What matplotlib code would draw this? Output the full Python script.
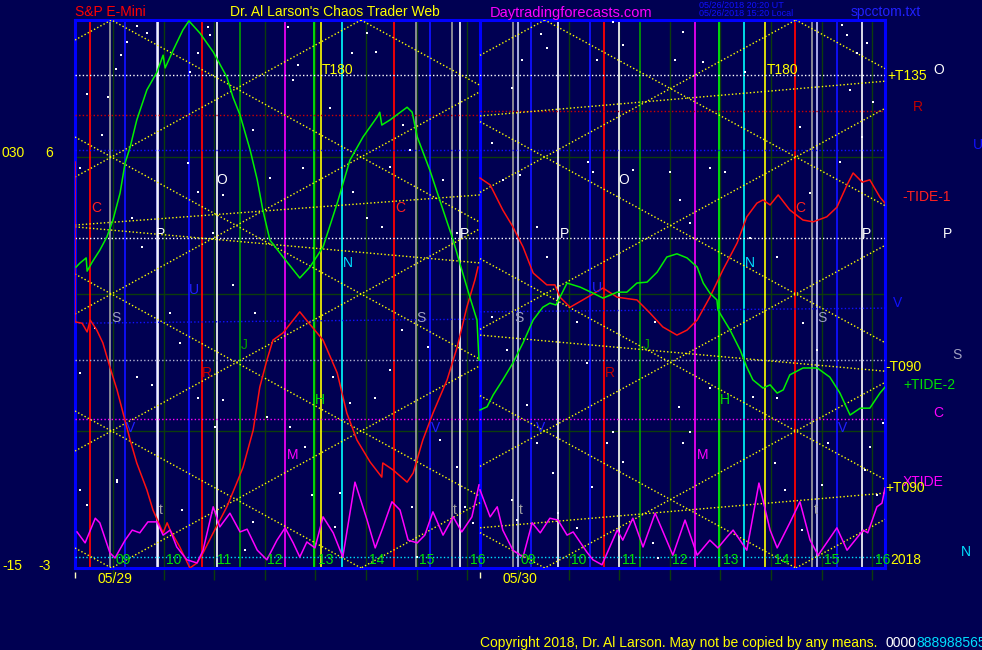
import numpy as np
import matplotlib
matplotlib.use('Agg')
import matplotlib.pyplot as plt

plt.rcParams['font.family'] = ['Liberation Sans', 'DejaVu Sans']

BG = '#000052'

# session hours: 0..8 = 05/29 08:15-16:15, 8..16 = 05/30 08:15-16:15
days = ['05/29', '05/30']
day_start = [0, 8]
hour_labels = ['09', '10', '11', '12', '13', '14', '15', '16']

# forecast curves (hours, value) per day
tide2_d1_x = [0.02, 0.10, 0.22, 0.24, 0.34, 0.49, 0.63, 0.75, 0.89, 0.99, 1.09, 1.22, 1.42, 1.62, 1.74, 1.78,
              1.94, 2.13, 2.25, 2.47, 2.73, 3.00, 3.12, 3.26, 3.46, 3.60, 3.71, 3.85, 4.11, 4.44, 4.64, 4.90,
              5.18, 5.43, 5.69, 5.97, 6.02, 6.06, 6.22, 6.56, 6.66, 6.76, 7.01, 7.27, 7.47, 7.60, 7.80, 7.94, 7.98]
tide2_d1_y = [3.59, 3.68, 3.79, 3.50, 3.70, 3.96, 4.25, 4.62, 5.21, 5.87, 6.22, 6.81, 7.47, 7.86, 8.23, 7.95,
              8.34, 8.78, 8.98, 8.71, 8.30, 7.75, 7.31, 6.92, 6.15, 5.50, 4.84, 4.18, 3.81, 3.35, 3.59, 4.03,
              4.99, 5.93, 6.44, 6.88, 6.98, 6.70, 6.81, 7.09, 6.98, 6.44, 5.71, 4.84, 4.18, 3.68, 2.93, 2.43, 1.55]
tide2_d2_x = [8.00, 8.14, 8.26, 8.45, 8.65, 8.85, 9.05, 9.24, 9.38, 9.50, 9.58, 9.72, 9.98, 10.23, 10.43, 10.71,
              10.90, 11.10, 11.30, 11.50, 11.69, 11.89, 12.09, 12.29, 12.41, 12.54, 12.68, 12.70, 12.94, 13.14,
              13.27, 13.39, 13.59, 13.73, 13.87, 13.99, 14.12, 14.38, 14.66, 14.91, 15.11, 15.31, 15.51, 15.70,
              15.90, 16.00]
tide2_d2_y = [0.46, 0.53, 0.79, 1.12, 1.49, 1.93, 2.43, 2.71, 2.80, 2.76, 2.93, 3.24, 3.15, 3.02, 2.91, 3.04,
              3.04, 3.24, 3.26, 3.48, 3.81, 3.88, 3.79, 3.59, 3.24, 3.02, 2.87, 2.65, 2.21, 1.77,
              1.40, 1.12, 0.94, 1.01, 0.83, 0.90, 1.23, 1.38, 1.38, 1.18, 0.83, 0.35, 0.50, 0.50,
              0.83, 0.96]

tide1_d1_x = [0.00, 0.00, 0.14, 0.24, 0.30, 0.43, 0.55, 0.69, 0.83, 0.95, 1.09, 1.22, 1.42, 1.54, 1.74, 1.82,
              1.88, 2.07, 2.27, 2.41, 2.53, 2.73, 3.00, 3.22, 3.32, 3.52, 3.65, 3.79, 3.91, 4.11, 4.44, 4.60,
              4.90, 5.18, 5.37, 5.57, 5.83, 6.06, 6.08, 6.28, 6.56, 6.68, 6.87, 7.07, 7.35, 7.55, 7.74, 7.90, 7.96]
tide1_d1_y = [5.89, 2.39, 2.36, 2.17, 2.43, 2.21, 1.93, 1.40, 0.90, 0.39, -0.20, -0.70, -1.29, -1.73, -2.23, -2.01,
              -2.17, -2.54, -3.00, -2.89, -2.67, -2.23, -1.66, -1.07, -0.79, 0.02, 0.96, 1.55, 1.99, 2.15, 2.61, 2.39,
              1.99, 1.27, 0.39, -0.20, -0.68, -1.01, -0.70, -0.85, -1.12, -0.92, -0.20, 0.39, 1.12, 1.84, 2.71, 3.31, 3.59]
tide1_d2_x = [8.00, 8.20, 8.45, 8.65, 8.85, 9.05, 9.32, 9.48, 9.58, 9.78, 10.03, 10.43, 10.71, 11.10, 11.36,
              11.61, 11.89, 12.09, 12.29, 12.54, 12.80, 13.08, 13.27, 13.47, 13.59, 13.73, 13.89, 14.12, 14.38,
              14.58, 14.85, 15.05, 15.25, 15.37, 15.55, 15.70, 15.90, 16.00]
tide1_d2_y = [5.54, 5.39, 4.84, 4.47, 4.03, 3.46, 3.20, 3.20, 2.93, 2.71, 2.87, 3.13, 2.93, 2.87, 2.58,
              2.28, 2.10, 2.21, 2.43, 2.93, 3.53, 4.12, 4.69, 4.99, 5.06, 4.95, 5.17, 4.84, 4.62,
              4.58, 4.69, 4.90, 5.39, 5.65, 5.45, 5.50, 5.12, 4.99]

xtide_d1_x = [0.04, 0.20, 0.40, 0.49, 0.69, 0.79, 0.99, 1.13, 1.28, 1.44, 1.62, 1.74, 1.88, 2.01, 2.21, 2.41,
              2.53, 2.73, 2.86, 3.06, 3.26, 3.40, 3.60, 3.79, 3.99, 4.15, 4.31, 4.44, 4.58, 4.74, 4.90, 5.10,
              5.29, 5.53, 5.77, 5.93, 6.08, 6.26, 6.42, 6.58, 6.76, 6.91, 7.07, 7.27, 7.47, 7.64, 7.84, 7.98]
xtide_d1_y = [-2.21, -2.45, -1.91, -2.01, -2.67, -2.78, -2.39, -2.17, -2.23, -1.99, -1.99, -2.28, -2.17, -2.54,
              -2.82, -2.89, -2.61, -1.66, -2.10, -1.80, -2.21, -2.15, -2.61, -2.82, -2.39, -2.12, -2.45, -2.76,
              -2.43, -2.56, -1.88, -2.23, -2.76, -1.12, -1.95, -2.56, -2.12, -1.55, -1.73, -2.39, -2.45, -2.28,
              -1.77, -2.28, -1.88, -2.21, -1.88, -1.18]
xtide_d2_x = [8.00, 8.20, 8.34, 8.45, 8.65, 8.85, 9.03, 9.19, 9.38, 9.54, 9.72, 9.84, 10.11, 10.23, 10.41, 10.71,
              10.82, 11.02, 11.22, 11.46, 11.81, 12.05, 12.29, 12.54, 12.70, 12.88, 13.00, 13.27, 13.51, 13.73,
              13.87, 14.12, 14.32, 14.52, 14.68, 15.05, 15.25, 15.57, 15.66, 15.84, 15.94, 16.00]
xtide_d2_y = [-1.29, -1.88, -1.66, -2.17, -2.61, -2.76, -2.01, -2.23, -1.91, -1.95, -2.28, -2.21, -2.65, -2.82,
              -2.93, -2.17, -2.39, -1.91, -2.54, -1.80, -2.72, -1.95, -2.72, -2.39, -2.56, -2.32, -2.17, -2.61,
              -1.14, -2.17, -2.56, -2.01, -1.55, -2.39, -2.72, -2.12, -2.61, -2.17, -2.23, -1.66, -1.58, -1.25]

# planetary event times (hours)
red_times = [0.30, 2.51, 6.30, 10.45, 14.22]
gray_times = [0.69, 6.74, 7.45, 8.65, 14.56]
lavender_times = [1.62, 8.75, 14.66]
white_times = [1.64, 2.80, 7.60, 9.54, 10.75, 15.55]
blue_times = [0.99, 2.25, 7.01, 9.01, 10.17, 15.05]
green_times = [3.26, 11.16]
lime_times = [4.72, 12.72]
magenta_times = [4.15, 12.25]
yellow_times = [4.86, 13.63]
cyan_times = [5.27, 13.21]

# horizontal levels
t180_level = 7.79
red_level = [6.92, 7.01]
u_level = 6.15
p_level = 4.23
v_level_d1 = [2.36, 2.45]
v_level_d2 = [2.61, 2.69]
s_level = 1.55
c_level = 0.26
n_level = -2.76

# slow yellow trend lines (start, end value per day segment)
slow_d1 = [(4.51, 5.17), (4.47, 3.68)]
slow_d2 = [(6.90, 7.66), (2.10, 1.31), (-2.12, -1.36)]

# Gann lattice anchors (top vertex hour) and half period for each day
gann_anchor = [0.72, 9.28]
gann_span = [4.93, 4.96]

# background star dots
star_x = [1.22, 1.42, 1.03, 0.91, 0.81, 0.65, 0.24, 2.63, 2.43, 2.67, 2.27, 4.21, 4.40, 4.31, 5.47, 5.95, 5.04,
          5.77, 9.21, 8.83, 8.63, 9.32, 10.31, 10.63, 10.82, 11.85, 12.01, 12.41, 13.23, 15.15, 15.25, 15.45,
          15.31, 15.76, 15.64, 0.10, 0.53, 1.13, 1.32, 2.23, 2.43, 2.73, 2.92, 3.12, 3.52, 3.85, 4.50, 5.49,
          5.77, 6.06, 6.22, 6.48, 6.62, 7.27, 7.55, 0.10, 0.40, 0.83, 1.22, 1.52, 1.88, 2.07, 2.43, 2.77, 2.92,
          3.56, 3.79, 4.25, 4.54, 5.10, 5.43, 5.93, 6.22, 6.46, 6.97, 7.21, 7.55, 8.24, 8.53, 8.93, 9.13, 9.44,
          9.92, 10.11, 10.51, 10.63, 10.82, 11.46, 11.93, 12.15, 12.01, 12.54, 13.39, 13.87, 13.83, 14.38,
          14.66, 14.87, 15.60, 15.70, 15.96, 8.24, 8.45, 8.79, 9.13, 9.32, 10.13, 10.23, 11.02, 11.75, 12.15,
          11.95, 12.54, 12.84, 13.33, 13.87, 14.32, 14.52, 15.11, 15.55, 0.10, 0.24, 0.83, 2.11, 3.36, 3.52,
          4.68, 5.14, 5.23, 6.66, 6.76, 7.70, 7.86, 8.63, 8.73, 9.54, 9.92, 10.21, 11.52, 11.42, 14.02, 14.36,
          14.76, 15.84]
star_y = [8.87, 8.71, 8.52, 8.23, 7.93, 7.31, 7.38, 8.85, 8.28, 8.67, 7.86, 8.85, 8.01, 7.69, 8.28, 8.30, 7.07,
          8.71, 8.69, 8.12, 7.51, 8.39, 8.12, 8.95, 8.45, 8.12, 8.74, 8.08, 7.86, 8.89, 8.67, 8.28,
          7.47, 7.20, 8.50, 5.76, 6.48, 4.66, 4.03, 5.87, 5.23, 4.34, 5.17, 3.20, 6.59, 5.54, 5.76, 5.23,
          4.66, 4.47, 5.78, 6.70, 6.15, 5.50, 4.34, 1.27, 2.26, -1.07, 1.18, 1.01, 2.58, 1.93, 0.72, 0.09, 0.68,
          2.58, 0.31, 0.09, -0.35, 1.18, 0.61, 0.72, 1.34, 2.21, 1.84, -0.20, -0.79, 2.50, 1.77, 0.57, -0.26, -0.92,
          2.39, 1.49, -0.26, -0.02, -0.68, 2.39, 0.53, -0.02, -0.26, 0.94, 0.74, 0.72, -0.70, 2.36,
          1.77, -0.26, -0.85, -0.35, 0.18, 6.31, 5.50, 5.61, 4.47, 3.81, 5.89, 5.67, 5.71, 5.67, 4.55,
          5.06, 5.76, 5.67, 4.23, 3.81, 6.66, 5.21, 5.89, 6.44, -1.29, -1.62, -1.12, -1.73, -2.61, -1.99,
          -1.40, -2.10, -1.36, -1.66, -2.76, -1.66, -2.01, -1.51, -1.95, -1.80, -2.12, -1.23, -2.78, -2.45, -1.29, -2.17,
          -1.18, -1.40]

# planet letters on the chart: (hour, value, letter, colour)
planet_marks = [
    (0.41, 4.88, 'C', '#ff2020'), (2.90, 5.50, 'O', 'white'), (1.68, 4.31, 'P', 'white'),
    (7.70, 4.31, 'P', 'white'), (6.42, 4.88, 'C', '#ff2020'), (5.39, 3.68, 'N', '#00e0ff'),
    (2.35, 3.09, 'U', '#2020ff'), (0.81, 2.47, 'S', '#a0a0c0'), (6.83, 2.47, 'S', '#a0a0c0'),
    (3.34, 1.88, 'J', '#00a000'), (2.61, 1.27, 'R', '#c00000'), (4.84, 0.68, 'H', '#00e000'),
    (1.09, 0.07, 'V', '#2020ff'), (7.13, 0.07, 'V', '#2020ff'), (4.29, -0.53, 'M', '#ff00ff'),
    (1.70, -1.73, 't', '#a0a0a0'), (7.51, -1.73, 't', '#a0a0a0'),
    (10.84, 5.50, 'O', 'white'), (14.32, 4.88, 'C', '#ff2020'), (9.66, 4.31, 'P', 'white'),
    (15.64, 4.31, 'P', 'white'), (13.33, 3.68, 'N', '#00e0ff'), (10.31, 3.13, 'U', '#2020ff'),
    (8.77, 2.47, 'S', '#a0a0c0'), (14.76, 2.47, 'S', '#a0a0c0'), (11.28, 1.88, 'J', '#00a000'),
    (10.57, 1.27, 'R', '#c00000'), (12.84, 0.68, 'H', '#00e000'), (9.19, 0.07, 'V', '#2020ff'),
    (15.17, 0.07, 'V', '#2020ff'), (12.39, -0.53, 'M', '#ff00ff'), (8.81, -1.73, 't', '#a0a0a0'),
    (14.64, -1.73, 't', '#a0a0a0'),
]

fig = plt.figure(figsize=(9.82, 6.5), dpi=100, facecolor=BG)
ax = fig.add_axes([75 / 982, 82 / 650, 810 / 982, 548 / 650])
ax.set_facecolor(BG)
ax.set_xlim(0, 16)
ax.set_ylim(-3, 9)
ax.set_xticks([])
ax.set_yticks([])
for sp in ax.spines.values():
    sp.set_color('#0000ff')
    sp.set_linewidth(2.2)

dot = (0, (1, 1.6))

# hour grid and value grid
for d in day_start:
    for i in range(8):
        h = d + 0.75 + i
        ax.vlines(h, -3.27, 9, color='#0c3c0c', lw=1, zorder=1, clip_on=False)
        ax.text(h + 0.05, -2.83, hour_labels[i], color='#00e000', fontsize=10, ha='left', va='center', zorder=6)
for v in [0, 3, 6]:
    ax.axhline(v, color='#0c3c0c', lw=1, zorder=1)

# planetary verticals
for times, col, lw in [(red_times, '#ff0000', 1.3), (gray_times, '#a0a0a0', 1.2), (lavender_times, '#c8c8ff', 1.2),
                       (white_times, '#ffffff', 1.2), (blue_times, '#1010ff', 1.3), (green_times, '#00a000', 1.2),
                       (lime_times, '#00ff00', 1.2), (magenta_times, '#ff00ff', 1.2), (yellow_times, '#ffff00', 1.2),
                       (cyan_times, '#00ffff', 1.2)]:
    ax.vlines(times, -3, 9, color=col, lw=lw, zorder=2)

# day separator
ax.axvline(8, color='#0000ff', lw=2.2, zorder=3)

# horizontal dotted levels
ax.axhline(t180_level, color='white', lw=1, ls=dot, zorder=3)
ax.plot([0, 8], [red_level[0]] * 2, color='#d00000', lw=1, ls=dot, zorder=3)
ax.plot([8, 16], [red_level[1]] * 2, color='#d00000', lw=1, ls=dot, zorder=3)
ax.axhline(u_level, color='#1010ff', lw=1, ls=dot, zorder=3)
ax.axhline(p_level, color='white', lw=1, ls=dot, zorder=3)
ax.plot([0, 8], v_level_d1, color='#1010ff', lw=1, ls=dot, zorder=3)
ax.plot([8, 16], v_level_d2, color='#1010ff', lw=1, ls=dot, zorder=3)
ax.axhline(s_level, color='#b0b0d0', lw=1, ls=dot, zorder=3)
ax.axhline(c_level, color='#ff00ff', lw=1, ls=dot, zorder=3)
ax.axhline(n_level, color='#00e0ff', lw=1, ls=dot, zorder=3)

# gann lattice
for d, x0, span in zip(day_start, gann_anchor, gann_span):
    s = 3 / span
    xs = np.array([d, d + 8])
    for k in range(-4, 10):
        for sgn in (1, -1):
            ax.plot(xs, 9 - 3 * k - sgn * s * (xs - x0), color='#ffff00', lw=1, ls=dot, zorder=3)

# slow trend lines
for y0, y1 in slow_d1:
    ax.plot([0, 8], [y0, y1], color='#ffff00', lw=1, ls=dot, zorder=3)
for y0, y1 in slow_d2:
    ax.plot([8, 16], [y0, y1], color='#ffff00', lw=1, ls=dot, zorder=3)

# stars
ax.scatter(star_x, star_y, s=2, marker='s', color='white', lw=0, zorder=3)

# tide curves
ax.plot(tide1_d1_x, tide1_d1_y, color='#ff1010', lw=1.1, zorder=5)
ax.plot(tide1_d2_x, tide1_d2_y, color='#ff1010', lw=1.1, zorder=5)
ax.plot(tide2_d1_x, tide2_d1_y, color='#00f000', lw=1.1, zorder=5)
ax.plot(tide2_d2_x, tide2_d2_y, color='#00f000', lw=1.1, zorder=5)
ax.plot(xtide_d1_x, xtide_d1_y, color='#ff00ff', lw=1.1, zorder=5)
ax.plot(xtide_d2_x, xtide_d2_y, color='#ff00ff', lw=1.1, zorder=5)

for h, v, t, c in planet_marks:
    ax.text(h, v, t, color=c, fontsize=10, ha='center', va='center', zorder=6)
for h in [4.88, 13.67]:
    ax.text(h, 7.91, 'T180', color='#ffff00', fontsize=10, ha='left', va='center', zorder=6)

# day marks below
for d, lab in zip(day_start, days):
    ax.vlines(d, -3.08, -3.22, color='#ffffc0', lw=1, clip_on=False)
    ax.text(d + 0.44, -3.25, lab, color='#ffff00', fontsize=10, ha='left', va='center', clip_on=False)


def ft(x, y, s, c, size=10, ha='left'):
    fig.text(x / 982, 1 - y / 650, s, color=c, fontsize=size, ha=ha, va='center')


ft(75, 12, 'S&P E-Mini', '#ff0000')
ft(230, 12, "Dr. Al Larson's Chaos Trader Web", '#ffff00')
ft(490, 13, 'Daytradingforecasts.com', '#ff00ff', 10.5)
ft(699, 5, '05/26/2018 20:20 UT', '#1010ff', 6.5)
ft(699, 14, '05/26/2018 15:20 Local', '#1010ff', 6.5)
ft(851, 12, 'spcctom.txt', '#2020ff', 10)

ft(2, 153, '030', '#ffff00')
ft(45, 153, '6', '#ffff00')
ft(2, 566, '-15', '#ffff00')
ft(38, 566, '-3', '#ffff00')

ft(887, 76, '+T135', '#ffff00')
ft(933, 70, 'O', 'white')
ft(913, 107, 'R', '#c00000')
ft(973, 145, 'U', '#1010ff')
ft(902, 197, '-TIDE-1', '#ff2020')
ft(943, 234, 'P', 'white')
ft(893, 303, 'V', '#1010ff')
ft(952, 355, 'S', '#a0a0c0')
ft(885, 367, '-T090', '#ffff00')
ft(903, 385, '+TIDE-2', '#00e000')
ft(933, 413, 'C', '#ff00ff')
ft(903, 482, 'XTIDE', '#ff00ff')
ft(885, 488, '+T090', '#ffff00')
ft(890, 560, '2018', '#ffff00')
ft(961, 552, 'N', '#00e0ff')

ft(480, 643, 'Copyright 2018, Dr. Al Larson. May not be copied by any means.', '#ffff00')
ft(885, 643, '0000', 'white')
ft(916, 643, '8889885651', '#00e0ff')

fig.savefig('out.png', dpi=100, facecolor=BG)
